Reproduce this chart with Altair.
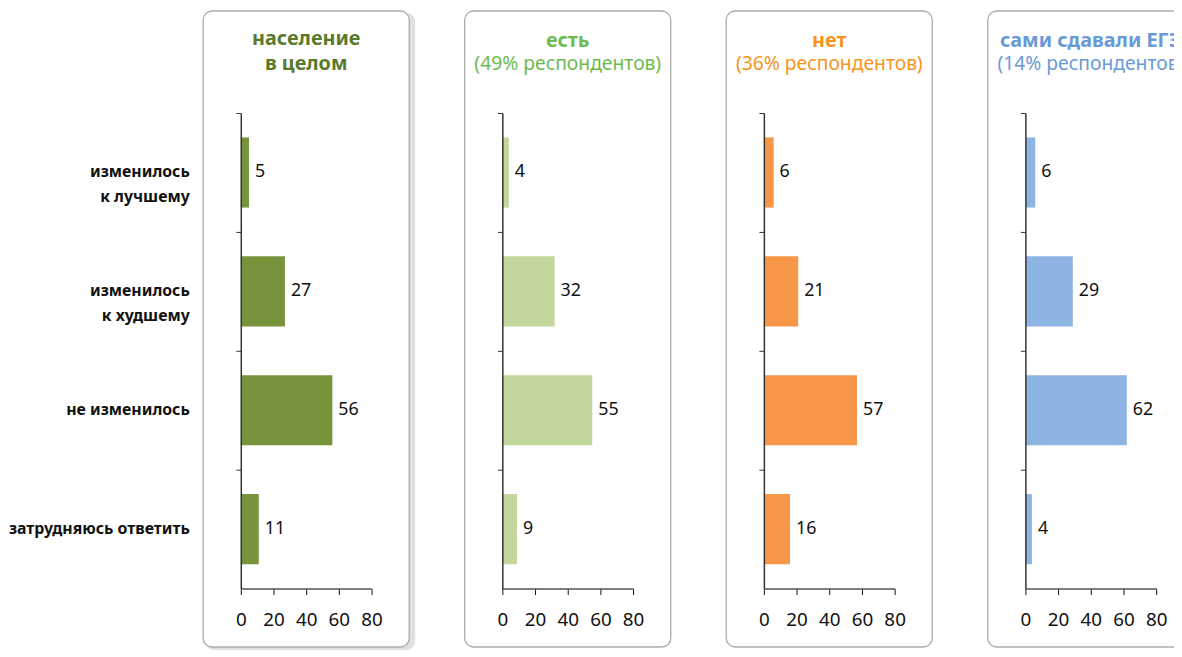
import altair as alt
import pandas as pd

categories = ["изменилось|к лучшему", "изменилось|к худшему", "не изменилось", "затрудняюсь ответить"]
values_total = [5, 27, 56, 11]
values_yes = [4, 32, 55, 9]
values_no = [6, 21, 57, 16]
values_self = [6, 29, 62, 4]
panel_values = [values_total, values_yes, values_no, values_self]
title_main = [["население", "в целом"], ["есть"], ["нет"], ["сами сдавали ЕГЭ"]]
title_sub = ["", "(49% респондентов)", "(36% респондентов)", "(14% респондентов)"]
bar_colors = ["#77933C", "#C3D69B", "#F79646", "#8EB4E3"]
title_colors = ["#5A7A2B", "#6DBB4F", "#F7941D", "#6A9AD6"]
x_ticks = [0, 20, 40, 60, 80]

FONT = "Noto Sans"


def panel(i):
    df = pd.DataFrame({"cat": categories, "val": panel_values[i]})
    show = i == 0
    yaxis = alt.Axis(
        title=None, labels=show, ticks=True, bandPosition=-0.347, domain=True,
        domainColor="#333333", tickColor="#333333", tickSize=5, domainWidth=1.5,
        labelExpr="split(datum.label, '|')", labelFontSize=16, labelFontWeight="bold",
        labelPadding=47, labelColor="#111111", labelLineHeight=25, labelFont=FONT,
        labelLimit=400, zindex=2,
    )
    y = alt.Y("cat:N", sort=categories,
              scale=alt.Scale(paddingInner=0.41, paddingOuter=0.205), axis=yaxis)
    x = alt.X("val:Q", scale=alt.Scale(domain=[0, 80], nice=False),
              axis=alt.Axis(values=x_ticks, title=None, grid=False, tickSize=6,
                            tickColor="#111111", domainColor="#555555", domainWidth=1.5,
                            labelFontSize=19, labelPadding=16, labelColor="#111111",
                            labelFont=FONT, labelFlush=False, zindex=2))
    layers = []
    if i == 0:
        shadow = alt.Chart(pd.DataFrame({"b": [0]})).mark_rect(
            cornerRadius=9, fill="#000000", opacity=0.12
        ).encode(x=alt.value(-36), x2=alt.value(176), y=alt.value(-101), y2=alt.value(542))
        layers.append(shadow)
    box = alt.Chart(pd.DataFrame({"b": [0]})).mark_rect(
        cornerRadius=9, fill="white", stroke="#AAAAAA", strokeWidth=1.3
    ).encode(x=alt.value(-38), x2=alt.value(170), y=alt.value(-103), y2=alt.value(539))
    layers.append(box)
    base = alt.Chart(df)
    bars = base.mark_bar(color=bar_colors[i]).encode(x=x, y=y)
    text = base.mark_text(align="left", dx=6, fontSize=18, font=FONT, color="#111111").encode(
        x=x, y=y, text="val:Q")
    layers += [bars, text]
    tp = dict(text=title_main[i], color=title_colors[i], fontSize=20, fontWeight="bold",
              font=FONT, anchor="middle", frame="group", offset=-64, lineHeight=25)
    if title_sub[i]:
        tp.update(subtitle=title_sub[i], subtitleColor=title_colors[i], subtitleFontSize=19.5,
                  subtitleFontWeight="normal", subtitleFont=FONT, subtitlePadding=5,
                  subtitleLineHeight=25)
    return alt.layer(*layers).properties(width=132, height=480, title=alt.TitleParams(**tp))


chart = alt.hconcat(*[panel(i) for i in range(4)], spacing=132, bounds="flush").properties(
    padding={"left": 0, "top": -1, "right": -21, "bottom": 0}
).configure_view(stroke=None)

chart.save("out.html", embed_options={"renderer": "svg", "actions": False})
